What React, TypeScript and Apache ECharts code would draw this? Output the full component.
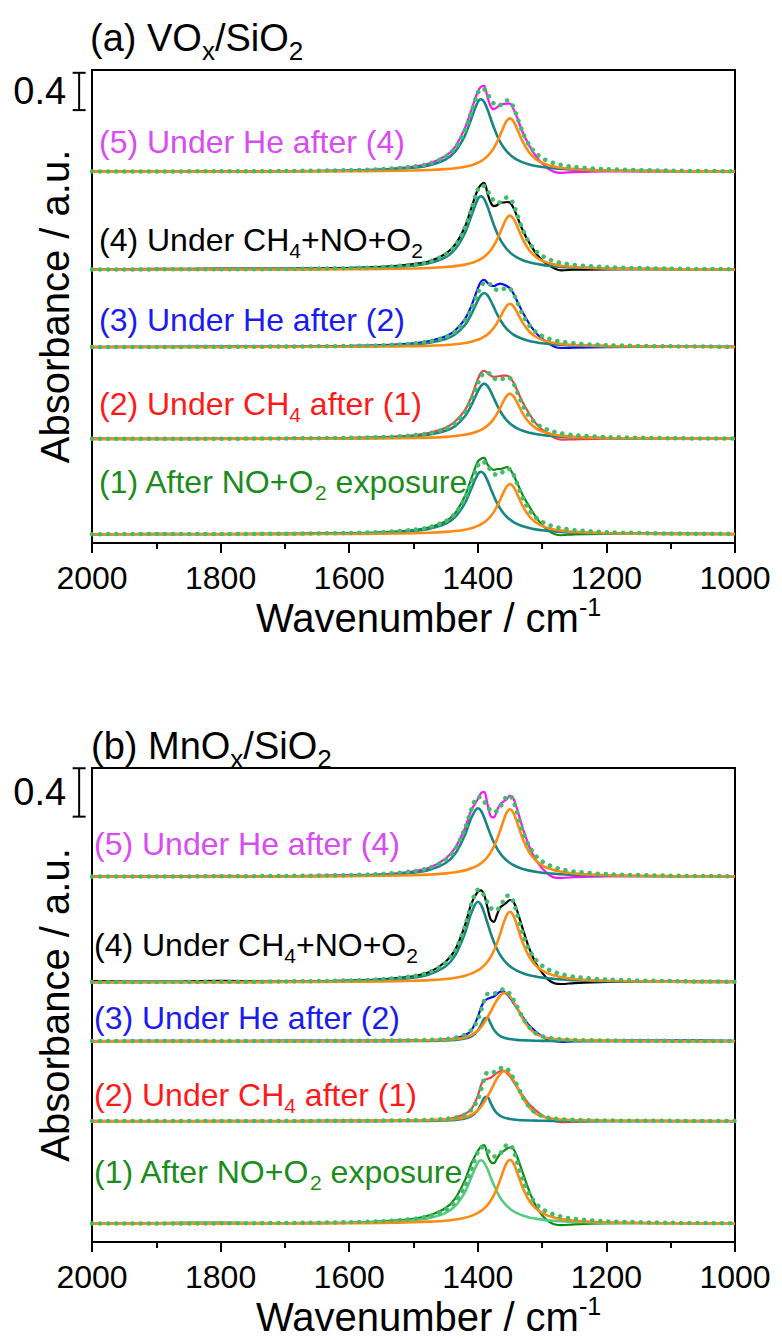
import React, { useEffect, useRef } from "react";
import * as echarts from "echarts";

// Shared wavenumber grid (cm-1)
const WAVENUMBER = [2000, 1900, 1800, 1700, 1600, 1550, 1500, 1475, 1450, 1435, 1420, 1410, 1400, 1395, 1390, 1385, 1380, 1375, 1370, 1365, 1360, 1355, 1350, 1345, 1340, 1330, 1320, 1310, 1300, 1290, 1280, 1270, 1250, 1200, 1100, 1000];

const X_TICKS = [2000, 1800, 1600, 1400, 1200, 1000];

// ---------- Panel (a) VOx/SiO2 : baselines and spectra (1)..(5) ----------
const A_OFFSET = [0.093, 1.115, 2.10, 2.93, 3.98];

const A_MEAS_1 = [0.0, 0.005, 0.002, 0.008, 0.012, 0.02, 0.045, 0.075, 0.14, 0.23, 0.41, 0.60, 0.78, 0.81, 0.82, 0.75, 0.71, 0.69, 0.70, 0.70, 0.71, 0.72, 0.70, 0.64, 0.57, 0.42, 0.30, 0.19, 0.10, 0.04, 0.0, -0.01, 0.0, 0.005, 0.008, 0.003];
const A_TEAL_1 = [0.001, 0.002, 0.003, 0.004, 0.010, 0.017, 0.036, 0.060, 0.115, 0.188, 0.335, 0.492, 0.645, 0.67, 0.645, 0.578, 0.492, 0.409, 0.335, 0.275, 0.226, 0.188, 0.158, 0.134, 0.115, 0.086, 0.067, 0.053, 0.043, 0.036, 0.030, 0.026, 0.019, 0.011, 0.005, 0.003];
const A_ORANGE_1 = [0.001, 0.001, 0.001, 0.002, 0.004, 0.007, 0.012, 0.017, 0.026, 0.035, 0.050, 0.066, 0.091, 0.108, 0.129, 0.157, 0.194, 0.241, 0.301, 0.373, 0.450, 0.514, 0.539, 0.514, 0.450, 0.301, 0.194, 0.129, 0.091, 0.066, 0.050, 0.040, 0.026, 0.012, 0.004, 0.002];

const A_MEAS_2 = [0.003, 0.0, 0.004, 0.006, 0.012, 0.02, 0.04, 0.065, 0.12, 0.19, 0.31, 0.45, 0.64, 0.71, 0.73, 0.71, 0.68, 0.665, 0.67, 0.675, 0.68, 0.68, 0.66, 0.61, 0.54, 0.39, 0.27, 0.17, 0.10, 0.05, 0.01, -0.008, -0.004, 0.003, 0.005, 0.002];
const A_TEAL_2 = [0.001, 0.001, 0.002, 0.004, 0.008, 0.014, 0.029, 0.047, 0.088, 0.140, 0.243, 0.362, 0.511, 0.570, 0.593, 0.570, 0.511, 0.436, 0.362, 0.297, 0.243, 0.200, 0.167, 0.140, 0.119, 0.088, 0.067, 0.053, 0.042, 0.035, 0.029, 0.025, 0.018, 0.010, 0.004, 0.002];
const A_ORANGE_2 = [0.001, 0.001, 0.001, 0.002, 0.004, 0.006, 0.011, 0.015, 0.023, 0.032, 0.045, 0.060, 0.082, 0.097, 0.117, 0.142, 0.175, 0.217, 0.272, 0.336, 0.406, 0.463, 0.486, 0.463, 0.406, 0.272, 0.175, 0.117, 0.082, 0.060, 0.045, 0.036, 0.023, 0.011, 0.004, 0.002];

const A_MEAS_3 = [0.0, 0.003, 0.005, 0.006, 0.012, 0.02, 0.04, 0.065, 0.115, 0.18, 0.30, 0.44, 0.63, 0.70, 0.72, 0.69, 0.66, 0.655, 0.67, 0.68, 0.67, 0.655, 0.63, 0.58, 0.51, 0.37, 0.25, 0.155, 0.09, 0.04, 0.0, -0.01, -0.006, 0.0, 0.004, 0.002];
const A_TEAL_3 = [0.001, 0.001, 0.002, 0.004, 0.008, 0.014, 0.028, 0.046, 0.086, 0.137, 0.237, 0.353, 0.499, 0.557, 0.579, 0.557, 0.499, 0.426, 0.353, 0.290, 0.237, 0.196, 0.163, 0.137, 0.116, 0.086, 0.065, 0.052, 0.041, 0.034, 0.028, 0.024, 0.018, 0.010, 0.004, 0.002];
const A_ORANGE_3 = [0.001, 0.001, 0.001, 0.002, 0.004, 0.006, 0.010, 0.015, 0.022, 0.030, 0.043, 0.057, 0.078, 0.093, 0.111, 0.135, 0.167, 0.207, 0.259, 0.321, 0.387, 0.442, 0.464, 0.442, 0.387, 0.259, 0.167, 0.111, 0.078, 0.057, 0.043, 0.034, 0.022, 0.010, 0.004, 0.002];

const A_MEAS_4 = [0.005, 0.008, 0.01, 0.012, 0.02, 0.03, 0.06, 0.09, 0.17, 0.27, 0.46, 0.66, 0.86, 0.91, 0.93, 0.82, 0.72, 0.68, 0.69, 0.72, 0.72, 0.725, 0.72, 0.67, 0.59, 0.42, 0.29, 0.18, 0.10, 0.05, 0.01, -0.008, 0.0, 0.004, 0.006, 0.004];
const A_TEAL_4 = [0.001, 0.002, 0.003, 0.005, 0.012, 0.020, 0.042, 0.070, 0.134, 0.221, 0.393, 0.578, 0.756, 0.786, 0.756, 0.678, 0.578, 0.479, 0.393, 0.322, 0.266, 0.221, 0.185, 0.157, 0.134, 0.101, 0.079, 0.063, 0.051, 0.042, 0.035, 0.030, 0.023, 0.013, 0.006, 0.003];
const A_ORANGE_4 = [0.001, 0.001, 0.001, 0.002, 0.005, 0.007, 0.013, 0.018, 0.028, 0.038, 0.054, 0.071, 0.097, 0.116, 0.139, 0.169, 0.208, 0.259, 0.324, 0.401, 0.483, 0.552, 0.579, 0.552, 0.483, 0.324, 0.208, 0.139, 0.097, 0.071, 0.054, 0.042, 0.028, 0.013, 0.005, 0.002];

const A_MEAS_5 = [0.003, 0.0, 0.005, 0.004, 0.015, 0.025, 0.055, 0.09, 0.17, 0.27, 0.47, 0.66, 0.86, 0.91, 0.92, 0.80, 0.70, 0.67, 0.69, 0.72, 0.725, 0.73, 0.73, 0.68, 0.60, 0.42, 0.28, 0.17, 0.09, 0.03, -0.005, -0.012, -0.004, 0.002, 0.005, 0.003];
const A_TEAL_5 = [0.001, 0.002, 0.003, 0.005, 0.011, 0.020, 0.042, 0.069, 0.133, 0.218, 0.388, 0.570, 0.747, 0.776, 0.747, 0.669, 0.570, 0.473, 0.388, 0.318, 0.262, 0.218, 0.183, 0.155, 0.133, 0.100, 0.078, 0.062, 0.050, 0.042, 0.035, 0.030, 0.022, 0.013, 0.006, 0.003];
const A_ORANGE_5 = [0.001, 0.001, 0.001, 0.002, 0.005, 0.007, 0.013, 0.018, 0.028, 0.037, 0.054, 0.070, 0.096, 0.114, 0.137, 0.167, 0.206, 0.256, 0.320, 0.396, 0.478, 0.545, 0.572, 0.545, 0.478, 0.320, 0.206, 0.137, 0.096, 0.070, 0.054, 0.042, 0.028, 0.013, 0.005, 0.002];

// ---------- Panel (b) MnOx/SiO2 ----------
const B_OFFSET = [0.151, 0.998, 1.659, 2.146, 3.019];

const B_MEAS_1 = [0.004, 0.006, 0.01, 0.006, 0.01, 0.02, 0.04, 0.07, 0.13, 0.21, 0.36, 0.50, 0.60, 0.64, 0.65, 0.57, 0.51, 0.50, 0.54, 0.58, 0.60, 0.62, 0.63, 0.62, 0.57, 0.42, 0.27, 0.15, 0.07, 0.02, -0.006, -0.012, -0.005, 0.002, 0.005, 0.003];
const B_TEAL_1 = [0.001, 0.001, 0.002, 0.004, 0.008, 0.013, 0.028, 0.047, 0.090, 0.147, 0.262, 0.385, 0.504, 0.524, 0.504, 0.452, 0.385, 0.320, 0.262, 0.215, 0.177, 0.147, 0.124, 0.105, 0.090, 0.068, 0.052, 0.042, 0.034, 0.028, 0.024, 0.020, 0.015, 0.008, 0.004, 0.002];
const B_ORANGE_1 = [0.001, 0.001, 0.001, 0.002, 0.004, 0.007, 0.012, 0.017, 0.025, 0.035, 0.050, 0.065, 0.089, 0.106, 0.127, 0.154, 0.190, 0.236, 0.296, 0.366, 0.442, 0.504, 0.529, 0.504, 0.442, 0.296, 0.190, 0.127, 0.089, 0.065, 0.050, 0.039, 0.025, 0.012, 0.004, 0.002];

const B_MEAS_2 = [0.003, 0.0, 0.004, 0.002, 0.005, 0.006, 0.008, 0.01, 0.015, 0.03, 0.06, 0.10, 0.21, 0.30, 0.34, 0.35, 0.36, 0.38, 0.40, 0.415, 0.418, 0.40, 0.37, 0.33, 0.29, 0.21, 0.14, 0.09, 0.05, 0.02, 0.0, -0.008, -0.004, 0.002, 0.004, 0.002];
const B_TEAL_2 = [0, 0, 0, 0, 0.001, 0.001, 0.002, 0.003, 0.007, 0.011, 0.022, 0.041, 0.091, 0.140, 0.194, 0.201, 0.151, 0.099, 0.065, 0.045, 0.032, 0.024, 0.018, 0.014, 0.012, 0.008, 0.006, 0.005, 0.004, 0.003, 0.002, 0.002, 0.001, 0.001, 0, 0];
const B_ORANGE_2 = [0.001, 0.001, 0.001, 0.002, 0.003, 0.004, 0.006, 0.009, 0.013, 0.019, 0.033, 0.053, 0.091, 0.120, 0.158, 0.203, 0.253, 0.307, 0.355, 0.392, 0.413, 0.411, 0.386, 0.344, 0.297, 0.193, 0.114, 0.064, 0.040, 0.026, 0.019, 0.014, 0.010, 0.005, 0.003, 0.002];

const B_MEAS_3 = [0.0, 0.004, 0.002, 0.005, 0.004, 0.006, 0.01, 0.01, 0.015, 0.025, 0.05, 0.09, 0.20, 0.28, 0.33, 0.35, 0.36, 0.37, 0.39, 0.41, 0.41, 0.39, 0.36, 0.32, 0.28, 0.20, 0.13, 0.08, 0.04, 0.01, 0.0, -0.005, 0.0, 0.004, 0.008, 0.003];
const B_TEAL_3 = [0, 0, 0, 0, 0.001, 0.001, 0.002, 0.003, 0.006, 0.011, 0.022, 0.040, 0.088, 0.135, 0.187, 0.194, 0.146, 0.096, 0.063, 0.043, 0.031, 0.023, 0.018, 0.014, 0.011, 0.008, 0.006, 0.004, 0.003, 0.003, 0.002, 0.002, 0.001, 0.001, 0, 0];
const B_ORANGE_3 = [0.001, 0.001, 0.001, 0.002, 0.003, 0.004, 0.006, 0.008, 0.012, 0.018, 0.032, 0.051, 0.088, 0.116, 0.152, 0.196, 0.244, 0.296, 0.342, 0.378, 0.398, 0.396, 0.372, 0.332, 0.286, 0.186, 0.110, 0.062, 0.039, 0.025, 0.018, 0.014, 0.010, 0.005, 0.003, 0.002];

const B_MEAS_4 = [0.01, 0.005, 0.012, 0.006, 0.015, 0.025, 0.05, 0.085, 0.17, 0.27, 0.47, 0.65, 0.75, 0.76, 0.72, 0.62, 0.52, 0.50, 0.56, 0.62, 0.64, 0.66, 0.68, 0.67, 0.61, 0.44, 0.28, 0.16, 0.08, 0.02, -0.01, -0.014, -0.006, 0.003, 0.006, 0.004];
const B_TEAL_4 = [0.001, 0.002, 0.003, 0.005, 0.010, 0.018, 0.039, 0.067, 0.133, 0.225, 0.406, 0.574, 0.666, 0.641, 0.574, 0.490, 0.406, 0.333, 0.273, 0.225, 0.187, 0.157, 0.133, 0.114, 0.099, 0.075, 0.059, 0.048, 0.039, 0.033, 0.028, 0.024, 0.018, 0.010, 0.005, 0.003];
const B_ORANGE_4 = [0.001, 0.001, 0.001, 0.002, 0.005, 0.007, 0.013, 0.018, 0.028, 0.038, 0.055, 0.072, 0.098, 0.117, 0.140, 0.170, 0.210, 0.261, 0.326, 0.403, 0.487, 0.556, 0.583, 0.556, 0.487, 0.326, 0.210, 0.140, 0.098, 0.072, 0.055, 0.043, 0.028, 0.013, 0.005, 0.002];

const B_MEAS_5 = [0.005, 0.003, 0.006, 0.004, 0.012, 0.02, 0.045, 0.075, 0.15, 0.24, 0.40, 0.55, 0.64, 0.69, 0.70, 0.60, 0.50, 0.49, 0.55, 0.60, 0.62, 0.64, 0.67, 0.65, 0.58, 0.40, 0.25, 0.14, 0.07, 0.02, -0.008, -0.01, -0.004, 0.002, 0.004, 0.002];
const B_TEAL_5 = [0.001, 0.001, 0.002, 0.004, 0.009, 0.015, 0.033, 0.057, 0.113, 0.191, 0.345, 0.487, 0.565, 0.544, 0.487, 0.415, 0.345, 0.283, 0.232, 0.191, 0.159, 0.133, 0.113, 0.097, 0.084, 0.064, 0.050, 0.040, 0.033, 0.028, 0.024, 0.020, 0.015, 0.009, 0.004, 0.002];
const B_ORANGE_5 = [0.001, 0.001, 0.001, 0.002, 0.004, 0.007, 0.012, 0.017, 0.027, 0.036, 0.052, 0.069, 0.094, 0.111, 0.134, 0.163, 0.201, 0.249, 0.311, 0.385, 0.465, 0.531, 0.557, 0.531, 0.465, 0.311, 0.201, 0.134, 0.094, 0.069, 0.052, 0.041, 0.027, 0.012, 0.004, 0.002];

// ---------- Texts ----------
const PANEL_TITLES = ["(a) VO{sub|x}/SiO{sub|2}", "(b) MnO{sub|x}/SiO{sub|2}"];
const SPECTRUM_LABELS = [
  "(1) After NO+O{sub|2} exposure",
  "(2) Under CH{sub|4} after (1)",
  "(3) Under He after (2)",
  "(4) Under CH{sub|4}+NO+O{sub|2}",
  "(5) Under He after (4)",
];
const X_NAME = "Wavenumber / cm{sup|-1}";
const Y_NAME = "Absorbance / a.u.";
const SCALE_BAR_VALUE = 0.4;

// ---------- Styles ----------
const FONT = '"Liberation Sans", Arial, Helvetica, sans-serif';
const TICK_FONT = '"Liberation Sans Narrow", "Arial Narrow", "Liberation Sans", Arial, sans-serif';
const MEAS_COLORS = ["#128A12", "#F04040", "#0A0AFF", "#000000", "#FF10FF"];
const LABEL_COLORS = ["#1C8C1C", "#FF1A1A", "#1A1AF2", "#000000", "#D84CF2"];
const TEAL = "#178585";
const TEAL_LIGHT = "#55CC82";
const ORANGE = "#FF8A12";
const FIT = "#40BC6C";

const GRIDS = [
  { left: 92, top: 70, width: 643, height: 473 },
  { left: 92, top: 768, width: 643, height: 474 },
];
const Y_MAX = [5.07, 3.917];
const SCALE_TOP = [5.04, 3.915];
const TITLE_POS = [{ x: 90, y: 38 }, { x: 91, y: 746 }];
const LABEL_X = [99, 94];
const LABEL_Y = [
  [482, 404, 320, 240, 142],
  [1172, 1095, 1018, 945, 844],
];

const PANELS = [
  {
    offset: A_OFFSET,
    measured: [A_MEAS_1, A_MEAS_2, A_MEAS_3, A_MEAS_4, A_MEAS_5],
    teal: [A_TEAL_1, A_TEAL_2, A_TEAL_3, A_TEAL_4, A_TEAL_5],
    orange: [A_ORANGE_1, A_ORANGE_2, A_ORANGE_3, A_ORANGE_4, A_ORANGE_5],
  },
  {
    offset: B_OFFSET,
    measured: [B_MEAS_1, B_MEAS_2, B_MEAS_3, B_MEAS_4, B_MEAS_5],
    teal: [B_TEAL_1, B_TEAL_2, B_TEAL_3, B_TEAL_4, B_TEAL_5],
    orange: [B_ORANGE_1, B_ORANGE_2, B_ORANGE_3, B_ORANGE_4, B_ORANGE_5],
  },
];

function toPoints(values: number[], base: number) {
  return WAVENUMBER.map((w, i) => [w, base + values[i]]);
}

// wrap plain segments into the "n" rich style so every token has explicit metrics
function richWrap(text: string) {
  return text
    .split(/(\{(?:sub|sup)\|[^}]*\})/)
    .map((seg) => (seg.startsWith("{sub|") || seg.startsWith("{sup|") ? seg : seg ? `{n|${seg}}` : ""))
    .join("");
}

function buildOption() {
  const series: any[] = [];
  PANELS.forEach((panel, p) => {
    for (let s = 0; s < 5; s++) {
      const base = panel.offset[s];
      const tealColor = p === 1 && s === 0 ? TEAL_LIGHT : TEAL;
      const fitValues = panel.teal[s].map((v, i) => v + panel.orange[s][i]);
      series.push({
        type: "line", name: `m${p}${s}`, xAxisIndex: p, yAxisIndex: p,
        data: toPoints(panel.measured[s], base), symbol: "none", smooth: 0.3,
        lineStyle: { color: MEAS_COLORS[s], width: 2.2 }, silent: true, z: 2,
      });
      series.push({
        type: "line", name: `t${p}${s}`, xAxisIndex: p, yAxisIndex: p,
        data: toPoints(panel.teal[s], base), symbol: "none", smooth: 0.3,
        lineStyle: { color: tealColor, width: 2.6 }, silent: true, z: 3,
      });
      series.push({
        type: "line", name: `o${p}${s}`, xAxisIndex: p, yAxisIndex: p,
        data: toPoints(panel.orange[s], base), symbol: "none", smooth: 0.3,
        lineStyle: { color: ORANGE, width: 2.6 }, silent: true, z: 4,
      });
      series.push({
        type: "line", name: `f${p}${s}`, xAxisIndex: p, yAxisIndex: p,
        data: toPoints(fitValues, base), symbol: "none", smooth: 0.3,
        lineStyle: { color: FIT, width: 4.5, type: [0.1, 8], cap: "round" }, silent: true, z: 5,
      });
    }
    series.push({
      type: "custom", xAxisIndex: p, yAxisIndex: p, clip: false, silent: true, z: 6,
      data: [[2020, SCALE_TOP[p], SCALE_TOP[p] - SCALE_BAR_VALUE]],
      renderItem: (params: any, api: any) => {
        const a = api.coord([api.value(0), api.value(1)]);
        const b = api.coord([api.value(0), api.value(2)]);
        const st = { stroke: "#000", lineWidth: 2 };
        return {
          type: "group",
          children: [
            { type: "line", shape: { x1: a[0], y1: a[1], x2: b[0], y2: b[1] }, style: st },
            { type: "line", shape: { x1: a[0] - 6.5, y1: a[1], x2: a[0] + 6.5, y2: a[1] }, style: st },
            { type: "line", shape: { x1: b[0] - 6.5, y1: b[1], x2: b[0] + 6.5, y2: b[1] }, style: st },
            {
              type: "text", x: a[0] - 13, y: (a[1] + b[1]) / 2,
              style: { text: String(SCALE_BAR_VALUE), fill: "#000", fontSize: 38, fontFamily: FONT, align: "right", verticalAlign: "middle" },
            },
          ],
        };
      },
    });
  });

  // main tokens get a tall line box; subscript tokens sit at its bottom => lowered below baseline
  const richFor = (size: number, lh: number, subSize: number, color: string) => ({
    n: { fontSize: size, lineHeight: lh, fontFamily: FONT, fill: color, color },
    sub: { fontSize: subSize, lineHeight: subSize, verticalAlign: "bottom", fontFamily: FONT, fill: color, color },
  });

  const graphic: any[] = [];
  PANEL_TITLES.forEach((t, p) => {
    graphic.push({
      type: "text", x: TITLE_POS[p].x, y: TITLE_POS[p].y, silent: true,
      style: {
        text: richWrap(t), fill: "#000", fontSize: 38, fontFamily: FONT, verticalAlign: "middle",
        rich: richFor(38, 51, 26, "#000"),
      },
    });
    SPECTRUM_LABELS.forEach((lab, s) => {
      graphic.push({
        type: "text", x: LABEL_X[p], y: LABEL_Y[p][s], silent: true, z: 10,
        style: {
          text: richWrap(lab), fill: LABEL_COLORS[s], fontSize: 32, fontFamily: FONT, verticalAlign: "middle",
          rich: richFor(32, 42, 21, LABEL_COLORS[s]),
        },
      });
    });
  });

  return {
    animation: false,
    backgroundColor: "#ffffff",
    grid: GRIDS.map((g) => ({ ...g, show: true, borderColor: "#000", borderWidth: 2, backgroundColor: "transparent", containLabel: false, outerBoundsMode: "none" })),
    xAxis: GRIDS.map((_, i) => ({
      type: "value", gridIndex: i, min: 1000, max: 2000, interval: 200, inverse: true,
      axisLine: { show: true, onZero: false, lineStyle: { color: "#000", width: 2 } },
      axisTick: { show: true, inside: false, length: 10, lineStyle: { color: "#000", width: 2 } },
      minorTick: { show: true, splitNumber: 2, length: 6, lineStyle: { color: "#000", width: 2 } },
      splitLine: { show: false }, minorSplitLine: { show: false },
      axisLabel: {
        color: "#000", fontSize: 32, fontFamily: TICK_FONT, margin: 19,
        formatter: (v: number) => (X_TICKS.includes(v) ? String(v) : ""),
      },
      name: richWrap(X_NAME), nameLocation: "middle", nameGap: 47,
      nameTextStyle: {
        color: "#000", fontSize: 40, fontFamily: FONT, padding: [0, 0, 0, 30],
        rich: {
          n: { fontSize: 40, lineHeight: 46, color: "#000", fontFamily: FONT },
          sup: { fontSize: 25, lineHeight: 25, verticalAlign: "top", color: "#000", fontFamily: FONT },
        },
      },
    })),
    yAxis: GRIDS.map((_, i) => ({
      type: "value", gridIndex: i, min: 0, max: Y_MAX[i],
      axisLine: { show: false }, axisTick: { show: false }, axisLabel: { show: false }, splitLine: { show: false },
      name: Y_NAME, nameLocation: "middle", nameRotate: 90, nameGap: 17,
      nameTextStyle: { color: "#000", fontSize: 40, fontFamily: FONT },
    })),
    series,
    graphic,
  };
}

export default function App() {
  const ref = useRef<HTMLDivElement>(null);
  useEffect(() => {
    if (!ref.current) return;
    const chart = echarts.init(ref.current, null, { renderer: "svg", width: 782, height: 1340 });
    chart.setOption(buildOption() as any);
    return () => chart.dispose();
  }, []);
  return (
    <div
      ref={ref}
      style={{ position: "absolute", left: 0, top: 0, width: 782, height: 1340, background: "#fff" }}
    />
  );
}
